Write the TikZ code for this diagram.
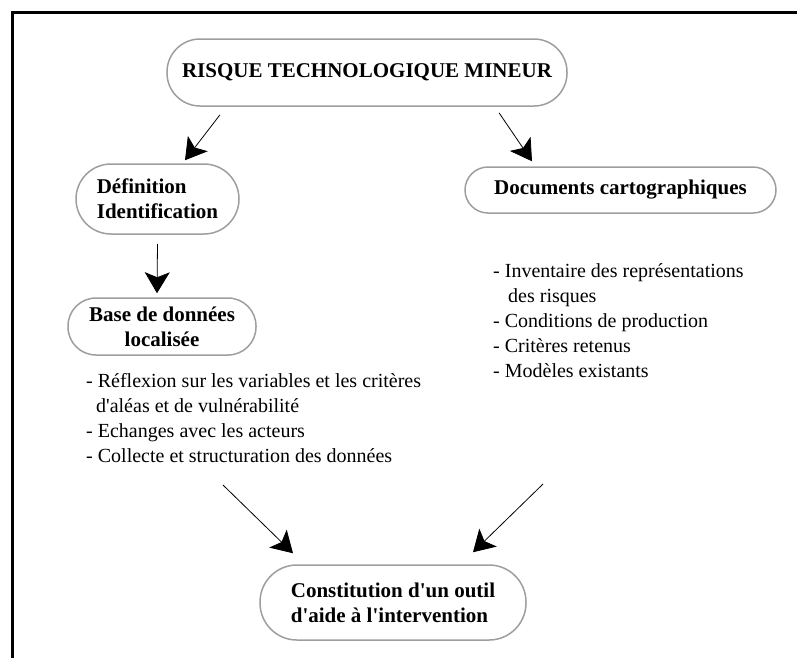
\documentclass[tikz,border=0pt]{standalone}
\usepackage{fontspec}
\setmainfont{Liberation Serif}
\usetikzlibrary{
  arrows.meta,
  positioning
}
\tikzset{
  theme/.style={
    draw=black!38,
    line width=1.5pt,
    font=\fontsize{21}{25}\selectfont\bfseries,
    inner sep=0pt,
  },
  items/.style={
    font=\fontsize{20}{25}\selectfont,
    align=left,
    inner sep=0pt,
    anchor=base west,
  },
  edge/.style={
    -{Stealth[length=21pt,width=25pt,inset=5pt]},
    line width=0.8pt,
  },
  frame/.style={
    line width=3pt,
  },
}
\newcommand{\ap}{\textquotesingle}

\begin{document}
\begin{tikzpicture}[x=1pt,y=-1pt]
	\useasboundingbox (0,0) rectangle (797,657);
	\draw[frame] (12,660) -- (12,12) -- (800,12);

	% boxes
	\node[theme, minimum width=400pt, minimum height=67pt, rounded corners=33pt] (risk) at (367,72.5) {RISQUE TECHNOLOGIQUE MINEUR};
	\node[theme, align=left, minimum width=163pt, minimum height=70pt, rounded corners=35pt] (def) at (157.5,199) {D\'efinition\\Identification};
	\node[theme, minimum width=311pt, minimum height=46pt, rounded corners=23pt] (docs) at (620.5,190) {Documents cartographiques};
	\node[theme, align=center, minimum width=188pt, minimum height=57pt, rounded corners=28pt] (base) at (162,326.5) {Base de donn\'ees\\localis\'ee};
	\node[theme, align=left, minimum width=266pt, minimum height=75pt, rounded corners=37pt] (tool) at (393,602.5) {Constitution d\ap un outil\\d\ap aide \`a l\ap intervention};

	% lists (anchored on the baseline of their last line)
	\node[items] (dblist) at (86,462) {- R\'eflexion sur les variables et les crit\`eres\\\hspace*{10pt}d\ap al\'eas et de vuln\'erabilit\'e\\- Echanges avec les acteurs\\- Collecte et structuration des donn\'ees};
	\node[items] (doclist) at (493,377) {- Inventaire des repr\'esentations\\\hspace*{15pt}des risques\\- Conditions de production\\- Crit\`eres retenus\\- Mod\`eles existants};
	\coordinate (fromdb) at (223,485);
	\coordinate (fromdoc) at (543,484);

	% edges
	\draw[edge] ([shift={(-147,8)}]risk.south) -- ([shift={(27.5,-3)}]def.north);
	\draw[edge] ([shift={(132,6)}]risk.south) -- ([shift={(-88.5,-5)}]docs.north);
	\draw[edge] ([shift={(0,9)}]def.south) -- ([shift={(-5,-4)}]base.north);
	\draw[edge] (fromdb) -- ([shift={(-100,-11)}]tool.north);
	\draw[edge] (fromdoc) -- ([shift={(80,-12)}]tool.north);
\end{tikzpicture}
\end{document}
